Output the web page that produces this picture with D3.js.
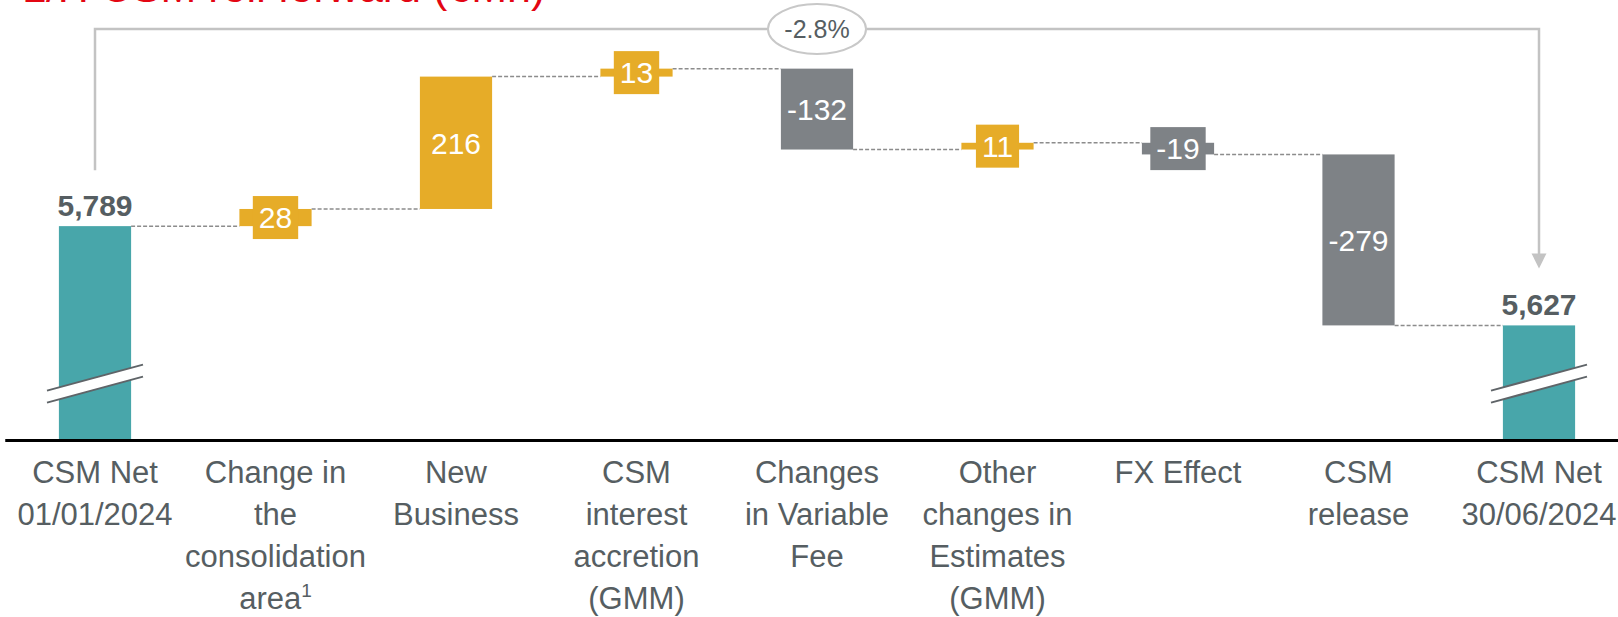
<!DOCTYPE html>
<html>
<head>
	<meta charset="UTF-8">
	<title>L/H CSM roll forward</title>
	<style>
		body { margin: 0; background: #fff; }
		svg { display: block; font-family: "Liberation Sans", Arial, sans-serif; }
		.connector { fill: none; stroke: #8c8c8c; stroke-width: 1.5; stroke-dasharray: 4,2; }
		.bracket { fill: none; stroke: #c3c3c3; stroke-width: 2.5; }
	</style>
</head>
<body>
<script src="https://d3js.org/d3.v7.min.js"></script>
<script>

'use strict';

// data
var title = "L/H CSM roll forward (€Mn)";
var categories = [
	["CSM Net", "01/01/2024"],
	["Change in", "the", "consolidation", "area¹"],
	["New", "Business"],
	["CSM", "interest", "accretion", "(GMM)"],
	["Changes", "in Variable", "Fee"],
	["Other", "changes in", "Estimates", "(GMM)"],
	["FX Effect"],
	["CSM", "release"],
	["CSM Net", "30/06/2024"]
];
var startValue = 5789;
var changes = [28, 216, 13, -132, 11, -19, -279];
var endValue = 5627;
var changePct = "-2.8%";
var axisBreak = 5440;   // value where the broken axis starts
var breakMark = 5532;   // value where the "//" is drawn

var width = 1618, height = 617;
var teal = "#48a6aa", gold = "#e6ac28", grey = "#7e8286", textGrey = "#565e62";

var svg = d3.select("body").append("svg")
	.attr("width", width)
	.attr("height", height);

// build the steps
var steps = [];
var level = startValue;
steps.push({i: 0, type: "total", y0: axisBreak, y1: startValue, value: startValue});
changes.forEach(function(v, k){
	steps.push({i: k + 1, type: v >= 0 ? "up" : "down", y0: level, y1: level + v, value: v});
	level += v;
});
steps.push({i: changes.length + 1, type: "total", y0: axisBreak, y1: endValue, value: endValue});

var x = d3.scaleBand()
	.domain(d3.range(categories.length))
	.range([4.75, 1629.25])
	.paddingInner(0.6)
	.paddingOuter(0.3);
var y = d3.scaleLinear()
	.domain([axisBreak, 6158])
	.range([440, 0]);
var bw = x.bandwidth();
var cx = function(i){ return x(i) + bw / 2; };
var fmt = d3.formatLocale({decimal: ".", thousands: ",", grouping: [3], currency: ["", ""], minus: "-"}).format(",d");
var fill = function(d){ return d.type === "total" ? teal : (d.type === "up" ? gold : grey); };

// title (cut off at the top like the reference)
svg.append("text")
	.attr("x", 22)
	.attr("y", 2)
	.attr("fill", "#e30613")
	.attr("font-size", 43)
	.text(title);

// connectors
svg.append("g").selectAll("line")
	.data(steps.slice(0, -1))
	.enter().append("line")
		.attr("class", "connector")
		.attr("x1", function(d){ return x(d.i) + bw; })
		.attr("x2", function(d){ return x(d.i + 1); })
		.attr("y1", function(d){ return y(d.y1); })
		.attr("y2", function(d){ return y(d.y1); });

// bars
var bars = svg.append("g").selectAll("g")
	.data(steps)
	.enter().append("g");

bars.append("rect")
	.attr("x", function(d){ return x(d.i); })
	.attr("width", bw)
	.attr("y", function(d){ return y(Math.max(d.y0, d.y1)); })
	.attr("height", function(d){ return Math.abs(y(d.y0) - y(d.y1)); })
	.attr("fill", fill);

// change labels: inside for tall bars, in a little box for short ones
var changeSteps = steps.filter(function(d){ return d.type !== "total"; });
var labels = svg.append("g").selectAll("g")
	.data(changeSteps)
	.enter().append("g")
		.attr("transform", function(d){
			return "translate(" + cx(d.i) + "," + (y(d.y0) + y(d.y1)) / 2 + ")";
		});

labels.each(function(d){
	var g = d3.select(this);
	var small = Math.abs(y(d.y0) - y(d.y1)) < 45;
	var t = g.append("text")
		.attr("text-anchor", "middle")
		.attr("dy", "0.36em")
		.attr("fill", "#fff")
		.attr("font-size", 30)
		.text(fmt(d.value));
	if (small) {
		var w = t.node().getComputedTextLength() + 12;
		g.insert("rect", "text")
			.attr("x", -w / 2)
			.attr("y", -21.5)
			.attr("width", w)
			.attr("height", 43)
			.attr("fill", fill(d));
	}
});

// axis break marks on the totals
var totals = steps.filter(function(d){ return d.type === "total"; });
var brk = svg.append("g").selectAll("g")
	.data(totals)
	.enter().append("g")
		.attr("transform", function(d){ return "translate(" + cx(d.i) + "," + y(breakMark) + ")"; });
brk.append("path")
	.attr("d", "M-48,7 L48,-19 L48,-7 L-48,19 Z")
	.attr("fill", "#fff");
brk.append("path")
	.attr("d", "M-48,7 L48,-19 M-48,19 L48,-7")
	.attr("stroke", "#5f6468")
	.attr("stroke-width", 2);

// total labels
svg.append("g").selectAll("text")
	.data(totals)
	.enter().append("text")
		.attr("x", function(d){ return cx(d.i); })
		.attr("y", function(d){ return y(d.y1) - 10; })
		.attr("text-anchor", "middle")
		.attr("font-size", 30)
		.attr("font-weight", "bold")
		.attr("fill", textGrey)
		.text(function(d){ return fmt(d.value); });

// bracket with arrow from start to end
var xa = cx(0), xb = cx(steps.length - 1);
var topY = 29, tipY = y(endValue) - 57;
svg.append("path")
	.attr("class", "bracket")
	.attr("d", "M" + xa + "," + (y(startValue) - 56) + " V" + topY + " H" + xb + " V" + (tipY - 14));
svg.append("path")
	.attr("d", "M" + (xb - 7.5) + "," + (tipY - 15) + " L" + (xb + 7.5) + "," + (tipY - 15) + " L" + xb + "," + tipY + " Z")
	.attr("fill", "#c3c3c3");
svg.append("ellipse")
	.attr("cx", (xa + xb) / 2)
	.attr("cy", topY)
	.attr("rx", 49)
	.attr("ry", 25)
	.attr("fill", "#fff")
	.attr("stroke", "#c8c8c8")
	.attr("stroke-width", 2);
svg.append("text")
	.attr("x", (xa + xb) / 2)
	.attr("y", topY)
	.attr("dy", "0.36em")
	.attr("text-anchor", "middle")
	.attr("font-size", 25)
	.attr("fill", textGrey)
	.text(changePct);

// x axis
var axis = svg.append("g")
	.attr("transform", "translate(0," + y(axisBreak) + ")")
	.call(d3.axisBottom(x).tickSize(0).tickFormat(""));
axis.select(".domain")
	.attr("stroke", "#000")
	.attr("stroke-width", 3);

svg.append("g").selectAll("text")
	.data(categories)
	.enter().append("text")
		.attr("x", function(d, i){ return cx(i); })
		.attr("y", y(axisBreak) + 43)
		.attr("text-anchor", "middle")
		.attr("font-size", 31)
		.attr("fill", textGrey)
		.each(function(lines){
			var t = d3.select(this);
			lines.forEach(function(s, k){
				var parts = s.split("¹");
				var line = t.append("tspan")
					.attr("x", t.attr("x"))
					.attr("dy", k === 0 ? 0 : 42)
					.text(parts[0]);
				if (parts.length > 1) {
					// footnote marker as a raised small "1"
					line.append("tspan")
						.attr("font-size", 19)
						.attr("dy", -12)
						.text("1");
				}
			});
		});

</script>
</body>
</html>
